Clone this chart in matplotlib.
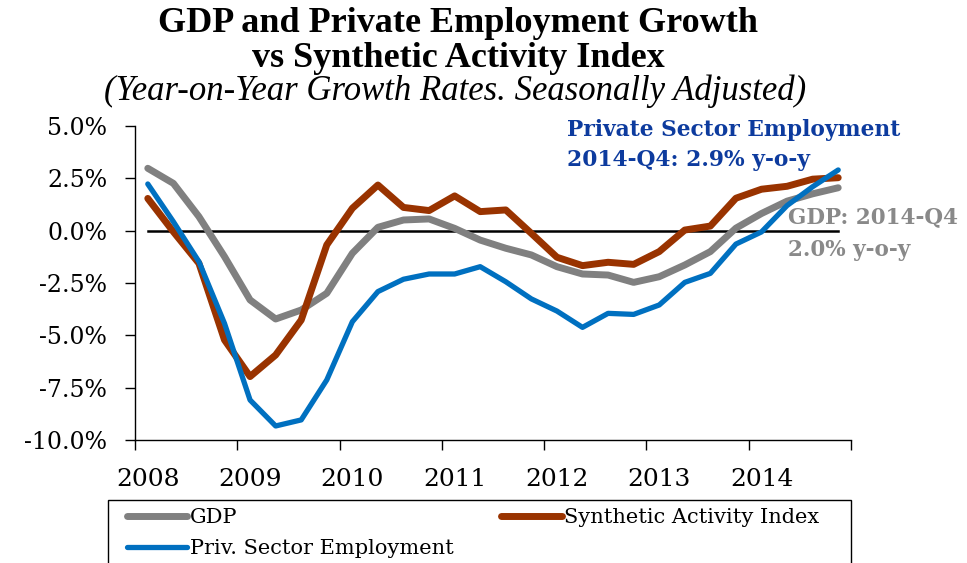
import numpy as np
import matplotlib.pyplot as plt
from matplotlib.patches import Rectangle
from matplotlib.ticker import FixedLocator, FuncFormatter

# quarterly y-o-y growth rates, 2008-Q1 .. 2014-Q4 (%)
quarters = [f"{y}-Q{q}" for y in range(2008, 2015) for q in range(1, 5)]
gdp = [2.98, 2.26, 0.67, -1.24, -3.31, -4.22, -3.79, -2.99, -1.08, 0.16, 0.51, 0.56, 0.11, -0.45,
       -0.84, -1.16, -1.72, -2.07, -2.12, -2.47, -2.20, -1.64, -1.00, 0.12, 0.82, 1.41, 1.76, 2.05]
sai = [1.54, -0.05, -1.56, -5.22, -6.97, -5.94, -4.27, -0.68, 1.07, 2.18, 1.11, 0.96, 1.66, 0.91,
       0.99, -0.13, -1.27, -1.67, -1.51, -1.61, -1.00, 0.03, 0.22, 1.55, 1.98, 2.12, 2.46, 2.53]
emp = [2.23, 0.43, -1.48, -4.43, -8.09, -9.33, -9.04, -7.13, -4.35, -2.91, -2.32, -2.07, -2.07, -1.72,
       -2.44, -3.26, -3.84, -4.62, -3.95, -4.00, -3.55, -2.47, -2.04, -0.64, -0.06, 1.20, 2.10, 2.90]
zero = [0.0] * len(quarters)
year_labels = ["2008", "2009", "2010", "2011", "2012", "2013", "2014"]
yticks = [-10.0, -7.5, -5.0, -2.5, 0.0, 2.5, 5.0]

W, H = 967, 563
def fx(px): return px / W
def fy(py): return 1 - py / H

fig = plt.figure(figsize=(9.67, 5.63), dpi=100)
ax = fig.add_axes([fx(135), fy(440), fx(851) - fx(135), fy(126) - fy(440)])

x = np.arange(len(quarters))
ax.plot(x, zero, color='black', linewidth=1.8, zorder=1)
l_gdp, = ax.plot(x, gdp, color='#808080', linewidth=5, solid_capstyle='round', label='GDP', zorder=2)
l_sai, = ax.plot(x, sai, color='#993300', linewidth=5, solid_capstyle='round', label='Synthetic Activity Index', zorder=3)
l_emp, = ax.plot(x, emp, color='#0070C0', linewidth=3.8, solid_capstyle='round', label='Priv. Sector Employment', zorder=4)

ax.set_xlim(-0.5, len(quarters) - 0.5)
ax.set_ylim(-10, 5)

# x axis: ticks on year boundaries, labels on Q1 of each year
ax.xaxis.set_major_locator(FixedLocator(np.arange(-0.5, len(quarters), 4)))
ax.xaxis.set_minor_locator(FixedLocator(np.arange(0, len(quarters), 4)))
ax.set_xticklabels([], minor=False)
ax.set_xticklabels(year_labels, minor=True, fontsize=18, family='DejaVu Serif')
ax.tick_params(axis='x', which='major', direction='out', length=7, width=1)
ax.tick_params(axis='x', which='minor', length=0, pad=20)

ax.set_yticks(yticks)
ax.yaxis.set_major_formatter(FuncFormatter(lambda v, p: f"{v:.1f}%"))
ax.tick_params(axis='y', direction='out', length=7, width=1, pad=13, labelsize=17)
for t in ax.get_yticklabels():
    t.set_family('DejaVu Serif')

for s in ['top', 'right']:
    ax.spines[s].set_visible(False)
for s in ['left', 'bottom']:
    ax.spines[s].set_linewidth(1)

# titles
fig.text(fx(458), fy(32), "GDP and Private Employment Growth", ha='center', va='baseline',
         fontsize=26, fontweight='bold', family='Liberation Serif')
fig.text(fx(458), fy(67), "vs Synthetic Activity Index", ha='center', va='baseline',
         fontsize=26, fontweight='bold', family='Liberation Serif')
fig.text(fx(455), fy(100), "(Year-on-Year Growth Rates. Seasonally Adjusted)", ha='center', va='baseline',
         fontsize=25, style='italic', family='Liberation Serif')

# end-point annotations
fig.text(fx(567), fy(136), "Private Sector Employment", ha='left', va='baseline',
         fontsize=15.7, fontweight='bold', color='#0D3B9E', family='DejaVu Serif')
fig.text(fx(567), fy(166), "2014-Q4: 2.9% y-o-y", ha='left', va='baseline',
         fontsize=15.7, fontweight='bold', color='#0D3B9E', family='DejaVu Serif')
fig.text(fx(788), fy(223), "GDP: 2014-Q4", ha='left', va='baseline',
         fontsize=15.5, fontweight='bold', color='#898989', family='DejaVu Serif')
fig.text(fx(788), fy(256), "2.0% y-o-y", ha='left', va='baseline',
         fontsize=15.5, fontweight='bold', color='#898989', family='DejaVu Serif')

# legend box (runs off the bottom of the picture)
fig.patches.append(Rectangle((fx(108), fy(600)), fx(851) - fx(108), fy(500) - fy(600),
                             transform=fig.transFigure, fill=False, edgecolor='black', linewidth=1))
leg = fig.legend(handles=[l_gdp, l_emp, l_sai], ncol=2, loc='upper left',
                 bbox_to_anchor=(fx(127), fy(508)), frameon=False, borderaxespad=0, borderpad=0,
                 prop={'family': 'DejaVu Serif', 'size': 15}, handlelength=2.9, handletextpad=0.1,
                 columnspacing=2.3, labelspacing=0.6)

fig.savefig('out.png', dpi=100)
